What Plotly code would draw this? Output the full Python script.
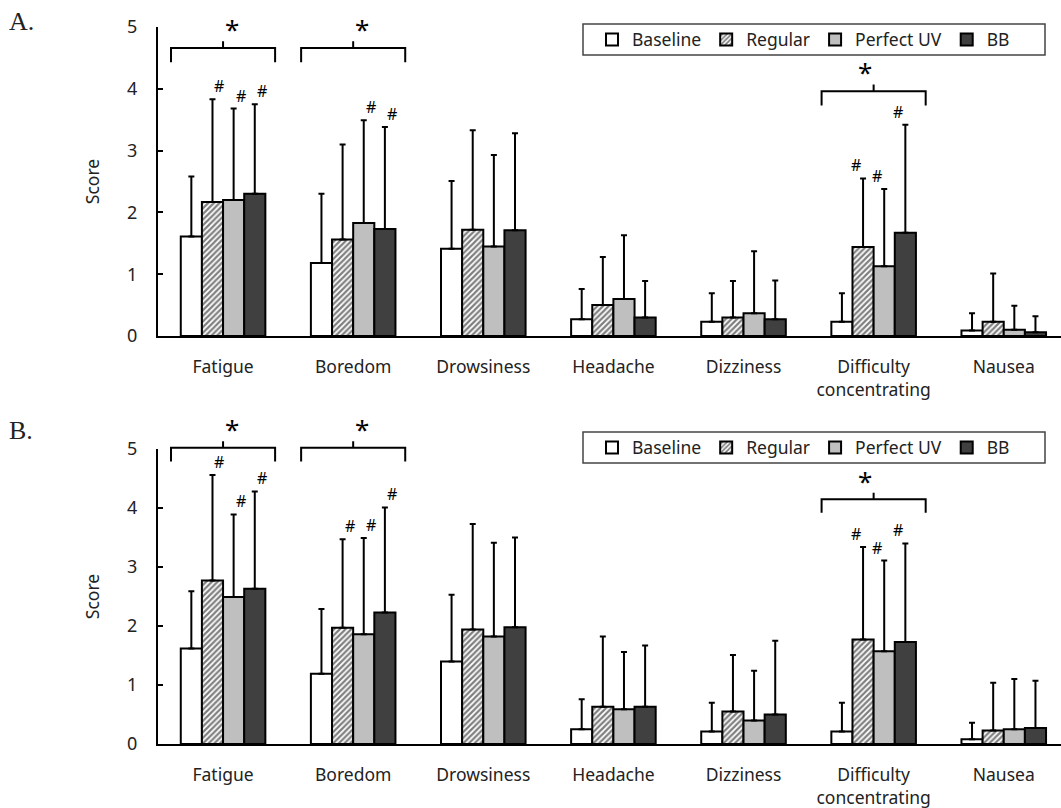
import plotly.graph_objects as go

# ---------------- data ----------------
categories = ["Fatigue", "Boredom", "Drowsiness", "Headache", "Dizziness",
              "Difficulty<br>concentrating", "Nausea"]
series_names = ["Baseline", "Regular", "Perfect UV", "BB"]

# Panel A: means and SD (upper error)
a_baseline = [1.61, 1.18, 1.41, 0.27, 0.23, 0.23, 0.09]
a_regular = [2.17, 1.56, 1.72, 0.50, 0.30, 1.44, 0.23]
a_perfectuv = [2.20, 1.83, 1.45, 0.60, 0.37, 1.13, 0.10]
a_bb = [2.30, 1.73, 1.71, 0.30, 0.27, 1.67, 0.06]
a_baseline_sd = [0.97, 1.12, 1.10, 0.49, 0.46, 0.46, 0.28]
a_regular_sd = [1.66, 1.54, 1.61, 0.78, 0.59, 1.11, 0.78]
a_perfectuv_sd = [1.48, 1.66, 1.48, 1.03, 1.00, 1.25, 0.39]
a_bb_sd = [1.45, 1.65, 1.57, 0.59, 0.63, 1.75, 0.26]

# Panel B
b_baseline = [1.62, 1.19, 1.40, 0.25, 0.21, 0.21, 0.08]
b_regular = [2.77, 1.97, 1.94, 0.63, 0.55, 1.77, 0.23]
b_perfectuv = [2.49, 1.86, 1.82, 0.59, 0.40, 1.57, 0.25]
b_bb = [2.63, 2.23, 1.98, 0.63, 0.50, 1.73, 0.27]
b_baseline_sd = [0.97, 1.10, 1.13, 0.51, 0.49, 0.49, 0.28]
b_regular_sd = [1.79, 1.50, 1.79, 1.19, 0.96, 1.57, 0.81]
b_perfectuv_sd = [1.40, 1.63, 1.59, 0.97, 0.84, 1.54, 0.85]
b_bb_sd = [1.65, 1.78, 1.52, 1.04, 1.25, 1.67, 0.80]

# '#' marks: (category index, series index)
a_hash = [(0, 1), (0, 2), (0, 3), (1, 2), (1, 3), (5, 1), (5, 2), (5, 3)]
b_hash = [(0, 1), (0, 2), (0, 3), (1, 1), (1, 2), (1, 3), (5, 1), (5, 2), (5, 3)]
# '*' brackets: (category index, bracket top level)
a_star = [(0, 4.66), (1, 4.66), (5, 3.96)]
b_star = [(0, 5.02), (1, 5.02), (5, 4.15)]

tick_vals = [0, 1, 2, 3, 4, 5]

# ---------------- styling ----------------
FONT = "Noto Sans"
W, H = 1061, 808
XRANGE = [-0.5, 6.44]
YRANGE = [0, 5]
BARGAP = 0.35
bar_w = (1 - BARGAP) / 4

styles = [
    dict(color="white", pattern=None),
    dict(color="white", pattern=dict(shape="/", fgcolor="black", bgcolor="white",
                                      size=4, solidity=0.55, fillmode="overlay")),
    dict(color="#BFBFBF", pattern=None),
    dict(color="#404040", pattern=None),
]

panels = [
    dict(means=[a_baseline, a_regular, a_perfectuv, a_bb],
         sds=[a_baseline_sd, a_regular_sd, a_perfectuv_sd, a_bb_sd],
         hashes=a_hash, stars=a_star, xa="x", ya="y", legend="legend",
         ydom=[(H - 336) / H, (H - 27) / H], label="A.", label_y=21,
         box=(583, 1045, 24, 55)),
    dict(means=[b_baseline, b_regular, b_perfectuv, b_bb],
         sds=[b_baseline_sd, b_regular_sd, b_perfectuv_sd, b_bb_sd],
         hashes=b_hash, stars=b_star, xa="x2", ya="y2", legend="legend2",
         ydom=[(H - 744) / H, (H - 449) / H], label="B.", label_y=430,
         box=(583, 1045, 432, 463)),
]

fig = go.Figure()
shapes = []
annotations = []
xidx = list(range(len(categories)))


def offset(j):
    return (j - 1.5) * bar_w


def xdom(v):
    return (v - XRANGE[0]) / (XRANGE[1] - XRANGE[0])


def ydom(v):
    return (v - YRANGE[0]) / (YRANGE[1] - YRANGE[0])


for p in panels:
    for j, name in enumerate(series_names):
        st = styles[j]
        marker = dict(color=st["color"], line=dict(color="black", width=2))
        if st["pattern"]:
            marker["pattern"] = st["pattern"]
        fig.add_trace(go.Bar(
            x=xidx, y=p["means"][j], name=name,
            xaxis=p["xa"], yaxis=p["ya"], legend=p["legend"],
            marker=marker, offsetgroup=str(j),
            error_y=dict(type="data", symmetric=False, array=p["sds"][j],
                         arrayminus=[0] * len(categories), color="black",
                         thickness=2, width=3),
        ))
    xr = p["xa"] + " domain"
    yr = p["ya"] + " domain"
    # '#' marks
    for (ci, sj) in p["hashes"]:
        top = p["means"][sj][ci] + p["sds"][sj][ci]
        annotations.append(dict(x=xdom(ci + offset(sj)), y=ydom(top), xref=xr, yref=yr,
                                text="#", showarrow=False, yanchor="bottom",
                                yshift=0, font=dict(family=FONT, size=16, color="black")))
    # '*' brackets
    for (ci, ytop) in p["stars"]:
        x0, x1 = ci - 0.4, ci + 0.4
        legs = ytop - 0.23
        tick = ytop + 0.11
        path = (f"M {xdom(x0)},{ydom(legs)} L {xdom(x0)},{ydom(ytop)} "
                f"L {xdom(x1)},{ydom(ytop)} L {xdom(x1)},{ydom(legs)} "
                f"M {xdom(ci)},{ydom(ytop)} L {xdom(ci)},{ydom(tick)}")
        shapes.append(dict(type="path", path=path, xref=xr, yref=yr,
                           line=dict(color="black", width=2)))
        annotations.append(dict(x=xdom(ci), y=ydom(tick), xref=xr, yref=yr, text="*",
                                showarrow=False, yanchor="bottom", yshift=-8,
                                font=dict(family=FONT, size=26, color="black")))
    # panel label
    annotations.append(dict(x=7 / W, y=1 - p["label_y"] / H, xref="paper", yref="paper",
                            text=p["label"], showarrow=False, xanchor="left",
                            yanchor="middle",
                            font=dict(family="Liberation Serif", size=26, color="#222")))
    # legend frame
    bx0, bx1, by0, by1 = p["box"]
    shapes.append(dict(type="rect", xref="paper", yref="paper", layer="below",
                       x0=bx0 / W, x1=bx1 / W, y0=1 - by0 / H, y1=1 - by1 / H,
                       line=dict(color="#444", width=1.5), fillcolor="white"))

axis_common_x = dict(range=XRANGE, domain=[158 / W, 1.0], showline=True, linewidth=2,
                     linecolor="black", ticks="", tickvals=xidx, ticktext=categories,
                     showgrid=False, zeroline=False, ticklabelstandoff=14,
                     tickfont=dict(family=FONT, size=17.5, color="#222"), automargin=False,
                     fixedrange=True)
axis_common_y = dict(range=YRANGE, showline=True, linewidth=2, linecolor="black",
                     ticks="inside", ticklen=5, tickwidth=2, tickcolor="black",
                     tickvals=tick_vals, showgrid=False, zeroline=False,
                     ticklabelstandoff=15,
                     tickfont=dict(family=FONT, size=18, color="#222"),
                     title=dict(text="Score", font=dict(family=FONT, size=17.5, color="#222"),
                                standoff=23),
                     automargin=False, fixedrange=True)

legend_common = dict(orientation="h", xanchor="left", yanchor="middle", x=592 / W,
                     bgcolor="rgba(0,0,0,0)", borderwidth=0,
                     font=dict(family=FONT, size=17.5, color="#222"), traceorder="normal",
                     itemclick=False)

fig.update_layout(
    width=W, height=H,
    margin=dict(l=0, r=0, t=0, b=0, autoexpand=False),
    paper_bgcolor="white", plot_bgcolor="white",
    barmode="group", bargap=BARGAP, bargroupgap=0,
    xaxis=dict(**axis_common_x, anchor="y"),
    yaxis=dict(**axis_common_y, domain=panels[0]["ydom"], anchor="x"),
    xaxis2=dict(**axis_common_x, anchor="y2"),
    yaxis2=dict(**axis_common_y, domain=panels[1]["ydom"], anchor="x2"),
    legend=dict(**legend_common, y=1 - 39.5 / H),
    legend2=dict(**legend_common, y=1 - 447.5 / H),
    shapes=shapes,
    annotations=annotations,
    showlegend=True,
)

fig.write_html("out.html", config={"displayModeBar": False, "responsive": False},
               post_script="document.body.style.margin='0';document.body.style.overflow='hidden';")
